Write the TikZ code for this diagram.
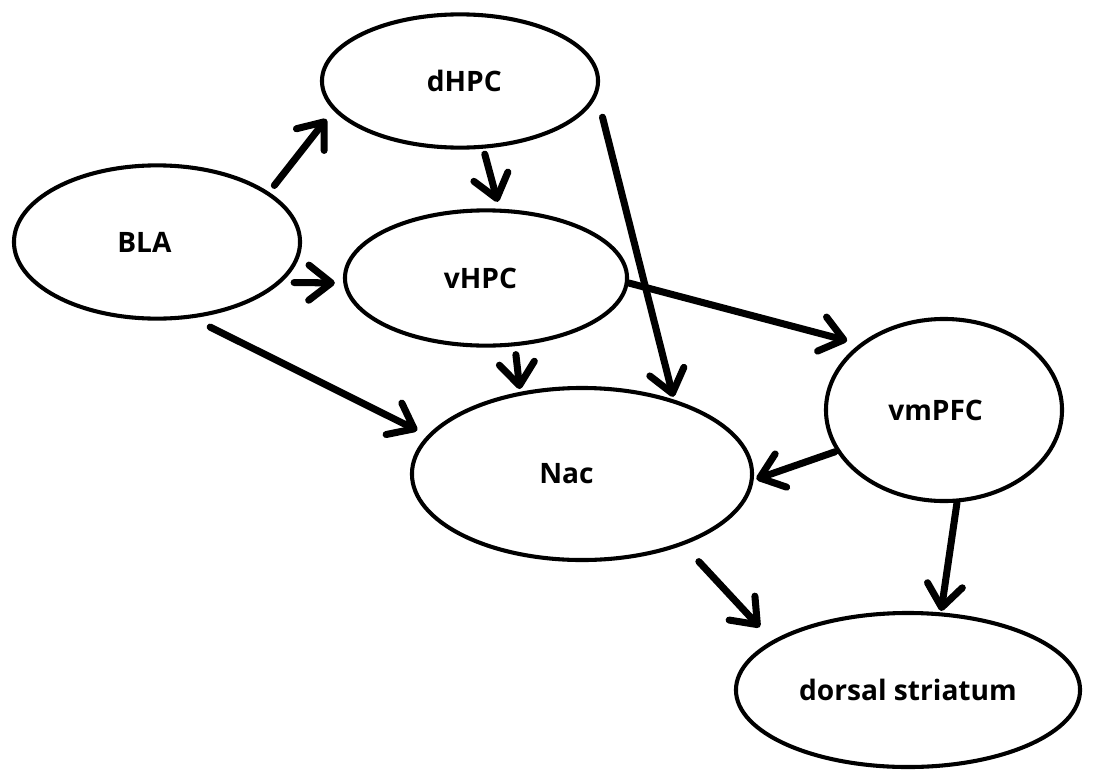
\documentclass[tikz,border=0pt]{standalone}
\usepackage{fontspec}
\setmainfont{Open Sans}
\usetikzlibrary{arrows.meta,shapes.geometric}

\begin{document}
\begin{tikzpicture}[x=0.025cm,y=-0.025cm,
  >={Straight Barb[length=16pt,width=25pt,round]},
  font=\fontsize{20}{24}\selectfont\bfseries,
  region/.style={ellipse,draw,line width=2.9pt,inner sep=0pt},
  link/.style={->,line width=5pt,line cap=round}]
\useasboundingbox (0,0) rectangle (1116,769);
\node[region,minimum width=6.9cm,minimum height=3.33cm,
  label={[xshift=3pt]center:dHPC}] (dhpc) at (460,81) {};
\node[region,minimum width=7.15cm,minimum height=3.83cm,
  label={[xshift=-9pt]center:BLA}] (bla) at (157,242) {};
\node[region,minimum width=7.05cm,minimum height=3.38cm,
  label={[xshift=-4pt]center:vHPC}] (vhpc) at (486,278) {};
\node[region,minimum width=5.9cm,minimum height=4.55cm,
  label={[xshift=-6pt]center:vmPFC}] (vmpfc) at (944,410) {};
\node[region,minimum width=8.5cm,minimum height=4.3cm,
  label={[xshift=-11pt]center:Nac}] (nac) at (582,474) {};
\node[region,minimum width=8.6cm,minimum height=3.85cm] (ds) at (908,690) {dorsal striatum};
% projections
\draw[link,shorten <=6pt,shorten >=8pt] (bla.24) -- (dhpc.193);
\draw[link,shorten <=4pt,shorten >=5pt] (dhpc.-71) -- (vhpc.79);
\draw[link,shorten <=9pt,shorten >=6pt] (bla.-18) -- (vhpc.182);
\draw[link,shorten <=14pt,shorten >=8pt] (bla.-65) -- (nac.166);
\draw[link,shorten <=16pt,shorten >=2pt] (dhpc.-6) -- (nac.39);
\draw[link,shorten >=9pt] (vhpc.-2) -- (vmpfc.142);
\draw[link,shorten <=6pt,shorten >=2pt] (vhpc.-67) -- (nac.127);
\draw[link,shorten <=1pt,shorten >=2pt] (vmpfc.201) -- (nac.358);
\draw[link,shorten <=16pt,shorten >=13pt] (nac.-35) -- (ds.160);
\draw[link,shorten >=1pt] (vmpfc.-82) -- (ds.67);
\end{tikzpicture}
\end{document}
